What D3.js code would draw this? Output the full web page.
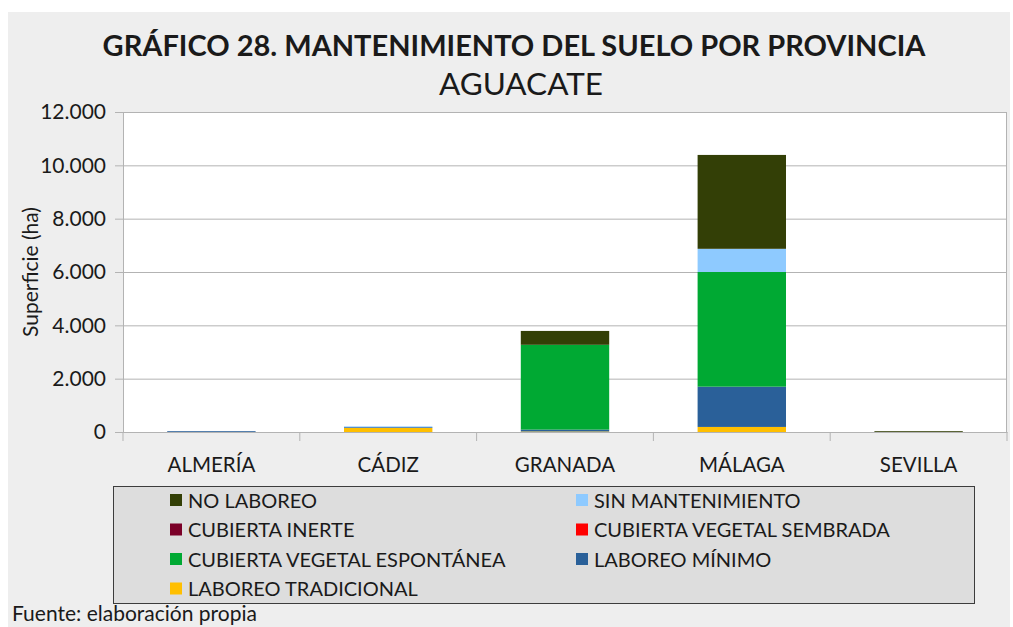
<!DOCTYPE html>
<html>
<head>
<meta charset="utf-8">
<script src="https://d3js.org/d3.v7.min.js"></script>
<style>
  body { margin: 0; background: #ffffff; }
  text { font-family: Lato, "Open Sans", sans-serif; fill: #1a1a1a; }
  .grid line { stroke: #b3b3b3; stroke-width: 1; }
  .grid path { stroke-width: 0; }
</style>
</head>
<body>
<div id="chart"></div>
<script>
// categories (provinces)
const provincias = ["ALMERÍA", "CÁDIZ", "GRANADA", "MÁLAGA", "SEVILLA"];

// series in stacking order, bottom to top (values in ha)
const laboreoTradicional = [0, 150, 20, 190, 0];
const laboreoMinimo = [30, 30, 70, 1510, 0];
const cubiertaEspontanea = [0, 0, 3180, 4300, 0];
const cubiertaSembrada = [0, 0, 0, 0, 0];
const cubiertaInerte = [0, 0, 0, 0, 0];
const sinMantenimiento = [0, 30, 0, 870, 0];
const noLaboreo = [0, 0, 520, 3520, 30];

const yTicks = [0, 2000, 4000, 6000, 8000, 10000, 12000];

const series = [
  { name: "LABOREO TRADICIONAL", values: laboreoTradicional, color: "#ffbf00" },
  { name: "LABOREO MÍNIMO", values: laboreoMinimo, color: "#2a6099" },
  { name: "CUBIERTA VEGETAL ESPONTÁNEA", values: cubiertaEspontanea, color: "#00a933" },
  { name: "CUBIERTA VEGETAL SEMBRADA", values: cubiertaSembrada, color: "#ff0000" },
  { name: "CUBIERTA INERTE", values: cubiertaInerte, color: "#7b0028" },
  { name: "SIN MANTENIMIENTO", values: sinMantenimiento, color: "#8ecaff" },
  { name: "NO LABOREO", values: noLaboreo, color: "#333f06" }
];

// legend order as in the picture (row by row, two columns)
const legendOrder = ["NO LABOREO", "SIN MANTENIMIENTO", "CUBIERTA INERTE", "CUBIERTA VEGETAL SEMBRADA",
  "CUBIERTA VEGETAL ESPONTÁNEA", "LABOREO MÍNIMO", "LABOREO TRADICIONAL"];

const W = 1013, H = 627;
const plot = { left: 123, right: 1007, top: 112, bottom: 432 };

const svg = d3.select("#chart").append("svg")
  .attr("width", W).attr("height", H);

// grey page background
svg.append("rect").attr("x", 8).attr("y", 12).attr("width", 1002).attr("height", 620)
  .attr("fill", "#eeeeee");

// titles
svg.append("text").attr("x", 514).attr("y", 56).attr("text-anchor", "middle")
  .style("font-size", "29px").style("font-weight", 700).text("GRÁFICO 28. MANTENIMIENTO DEL SUELO POR PROVINCIA");
svg.append("text").attr("x", 521).attr("y", 95).attr("text-anchor", "middle")
  .style("font-size", "31.5px").text("AGUACATE");

// build stacked table
const table = provincias.map((p, i) => {
  const row = { provincia: p };
  series.forEach(s => row[s.name] = s.values[i]);
  return row;
});
const stacked = d3.stack().keys(series.map(s => s.name))(table);

const x = d3.scaleBand().domain(provincias).range([plot.left, plot.right])
  .paddingInner(0.5).paddingOuter(0.25);
const y = d3.scaleLinear().domain([0, 12000]).range([plot.bottom, plot.top]);

// plot background
svg.append("rect").attr("x", plot.left).attr("y", plot.top)
  .attr("width", plot.right - plot.left).attr("height", plot.bottom - plot.top)
  .attr("fill", "#ffffff");

// horizontal grid
svg.append("g").attr("class", "grid")
  .attr("transform", `translate(${plot.left},0)`)
  .call(d3.axisLeft(y).tickValues(yTicks).tickSize(-(plot.right - plot.left)).tickFormat(""));

// plot frame
svg.append("rect").attr("x", plot.left + 0.5).attr("y", plot.top + 0.5)
  .attr("width", plot.right - plot.left - 1).attr("height", plot.bottom - plot.top)
  .attr("fill", "none").attr("stroke", "#b3b3b3");

// bars
const colorOf = d3.scaleOrdinal().domain(series.map(s => s.name)).range(series.map(s => s.color));
svg.append("g").selectAll("g")
  .data(stacked)
  .join("g")
  .attr("fill", d => colorOf(d.key))
  .selectAll("rect")
  .data(d => d)
  .join("rect")
  .attr("x", d => x(d.data.provincia))
  .attr("width", x.bandwidth())
  .attr("y", d => y(d[1]))
  .attr("height", d => y(d[0]) - y(d[1]));

// y axis
const yAxis = svg.append("g").attr("transform", `translate(${plot.left},0)`)
  .call(d3.axisLeft(y).tickValues(yTicks).tickSize(8).tickPadding(9)
    .tickFormat(d => d3.format(",")(d).replace(/,/g, ".")));
yAxis.select(".domain").attr("stroke", "#b3b3b3");
yAxis.selectAll(".tick line").attr("stroke", "#b3b3b3");
yAxis.selectAll("text").style("font-size", "21px").attr("fill", "#1a1a1a");

// x axis with separators between categories
const xAxis = svg.append("g").attr("transform", `translate(0,${plot.bottom})`)
  .call(d3.axisBottom(x).tickSize(0).tickPadding(25));
xAxis.select(".domain").attr("stroke", "#b3b3b3");
xAxis.selectAll("text").style("font-size", "20.5px").attr("fill", "#1a1a1a");
const step = x.step();
const bounds = d3.range(provincias.length + 1).map(i => plot.left + i * step);
xAxis.selectAll("line.sep").data(bounds).join("line").attr("class", "sep")
  .attr("x1", d => d).attr("x2", d => d).attr("y1", 0).attr("y2", 9)
  .attr("stroke", "#b3b3b3");

// y axis title
svg.append("text")
  .attr("transform", `translate(38,272) rotate(-90)`)
  .attr("text-anchor", "middle")
  .style("font-size", "21px").text("Superficie (ha)");

// legend
const legend = svg.append("g");
legend.append("rect").attr("x", 113.5).attr("y", 486.5).attr("width", 861).attr("height", 117)
  .attr("fill", "#dddddd").attr("stroke", "#3c3c3c");
const legItems = legend.selectAll("g.item")
  .data(legendOrder)
  .join("g").attr("class", "item")
  .attr("transform", (d, i) => `translate(${i % 2 === 0 ? 170 : 576},${500 + Math.floor(i / 2) * 29.5})`);
legItems.append("rect").attr("x", 0).attr("y", -6).attr("width", 12).attr("height", 12)
  .attr("fill", d => colorOf(d));
legItems.append("text").attr("x", 18).attr("y", 7.5)
  .style("font-size", "20px").text(d => d);

// source
svg.append("text").attr("x", 12).attr("y", 621).style("font-size", "21px")
  .text("Fuente: elaboración propia");
</script>
</body>
</html>
